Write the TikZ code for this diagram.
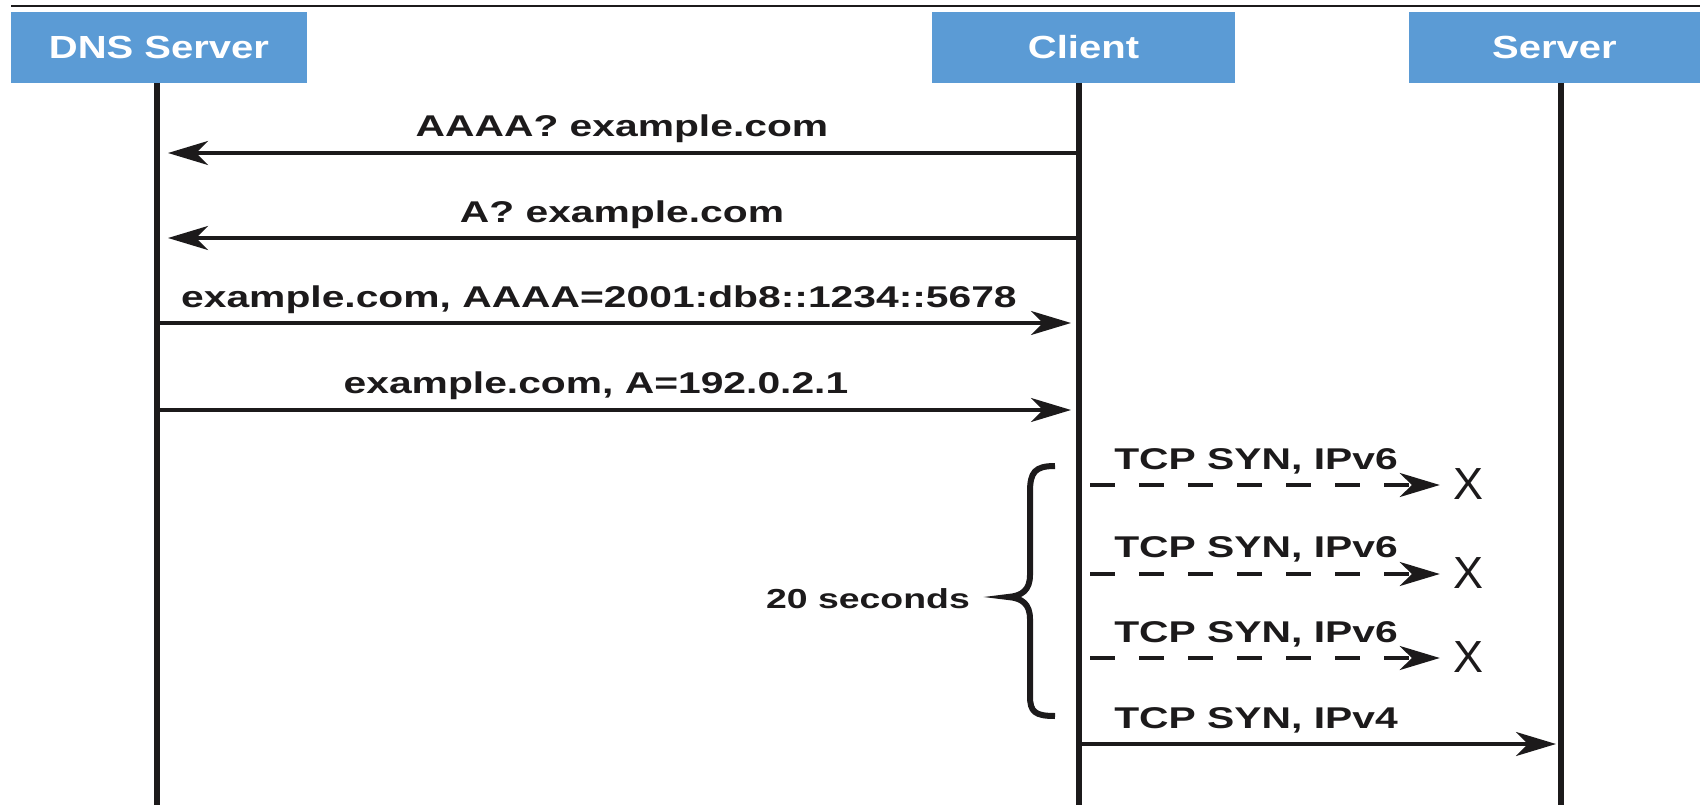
\documentclass[tikz,border=0pt]{standalone}
\usepackage{fontspec}
\setmainfont{Liberation Sans}[FakeStretch=1.36]
\newfontfamily\headfont{Liberation Sans}[FakeStretch=1.25]
\newfontfamily\crossfont{Liberation Sans}
\usetikzlibrary{arrows.meta}
\definecolor{headblue}{RGB}{91,155,213}
\definecolor{ink}{RGB}{28,26,27}

\begin{document}
\begin{tikzpicture}[x=1pt,y=-1pt,
  actorbox/.style={fill=headblue, draw=none, minimum height=71pt, inner sep=0pt,
    text=white, font=\headfont\bfseries\fontsize{32}{36}\selectfont,
    text height=23pt, text depth=0pt},
  lifeline/.style={draw=ink, line width=5.5pt},
  msgtext/.style={anchor=base, inner sep=0pt, text=ink,
    font=\bfseries\fontsize{30}{34}\selectfont},
  msg/.style={draw=ink, line width=3.4pt,
    -{Stealth[length=40pt, width=24pt, inset=12pt]}},
  lostmsg/.style={msg, dash pattern=on 25pt off 24pt},
  cross/.style={inner sep=0pt, text=ink, font=\crossfont\fontsize{45}{48}\selectfont},
  bracetext/.style={anchor=base, inner sep=0pt, text=ink,
    font=\bfseries\fontsize{27.5}{32}\selectfont},
  rule/.style={draw=ink, line width=2.5pt},
  bracestyle/.style={draw=ink, line width=6pt}
]
\useasboundingbox (0,0) rectangle (1700,805);

% top rule
\coordinate (ruleL) at (11,6);
\coordinate (ruleR) at (1700,6);
\draw[rule] (ruleL) -- (ruleR);

% participants
\node[actorbox, minimum width=296pt] (dns) at (159,47.5) {DNS Server};
\node[actorbox, minimum width=303pt] (client) at (1083.5,47.5) {Client};
\node[actorbox, minimum width=291pt] (server) at (1554.5,47.5) {Server};

% lifelines
\coordinate (dnsT) at (157,83);  \coordinate (dnsB) at (157,805);
\coordinate (cliT) at (1079,83); \coordinate (cliB) at (1079,805);
\coordinate (srvT) at (1561,83); \coordinate (srvB) at (1561,805);
\draw[lifeline] (dnsT) -- (dnsB);
\draw[lifeline] (cliT) -- (cliB);
\draw[lifeline] (srvT) -- (srvB);

% DNS queries
\coordinate (c1) at (1079,153); \coordinate (d1) at (157,153);
\draw[msg, shorten >=11pt] (c1) -- (d1);
\node[msgtext] (t1) at (622,137) {AAAA? example.com};

\coordinate (c2) at (1079,238); \coordinate (d2) at (157,238);
\draw[msg, shorten >=11pt] (c2) -- (d2);
\node[msgtext] (t2) at (622,223) {A? example.com};

% DNS answers
\coordinate (d3) at (157,323); \coordinate (c3) at (1079,323);
\draw[msg, shorten >=8pt] (d3) -- (c3);
\node[msgtext] (t3) at (599,307) {example.com, AAAA=2001:db8::1234::5678};

\coordinate (d4) at (157,410); \coordinate (c4) at (1079,410);
\draw[msg, shorten >=8pt] (d4) -- (c4);
\node[msgtext] (t4) at (596,393) {example.com, A=192.0.2.1};

% IPv6 attempts that get lost
\coordinate (c5) at (1079,485);
\node[cross] (x5) at (1468,484) {X};
\draw[lostmsg, shorten <=11pt, shorten >=13pt] (c5) -- (x5.west |- c5);
\node[msgtext] (t5) at (1256,469) {TCP SYN, IPv6};

\coordinate (c6) at (1079,574);
\node[cross] (x6) at (1468,573) {X};
\draw[lostmsg, shorten <=11pt, shorten >=13pt] (c6) -- (x6.west |- c6);
\node[msgtext] (t6) at (1256,557) {TCP SYN, IPv6};

\coordinate (c7) at (1079,658);
\node[cross] (x7) at (1468,657) {X};
\draw[lostmsg, shorten <=11pt, shorten >=13pt] (c7) -- (x7.west |- c7);
\node[msgtext] (t7) at (1256,642) {TCP SYN, IPv6};

% IPv4 fallback
\coordinate (c8) at (1079,744); \coordinate (s8) at (1561,744);
\draw[msg, shorten >=5pt] (c8) -- (s8);
\node[msgtext] (t8) at (1256,728) {TCP SYN, IPv4};

% timeout brace
\coordinate (brTop) at (1055,466);
\coordinate (brTip) at (1008,597);
\coordinate (brBot) at (1055,716);
\draw[bracestyle] (brTop) .. controls (1035,466) and (1030,472) .. (1030,492)
  -- (1030,575) .. controls (1030,590) and (1022,596) .. (brTip)
  .. controls (1022,598) and (1030,604) .. (1030,619)
  -- (1030,696) .. controls (1030,712) and (1035,716) .. (brBot);
\node[bracetext] (wait) at (868,608) {20 seconds};
\end{tikzpicture}
\end{document}
